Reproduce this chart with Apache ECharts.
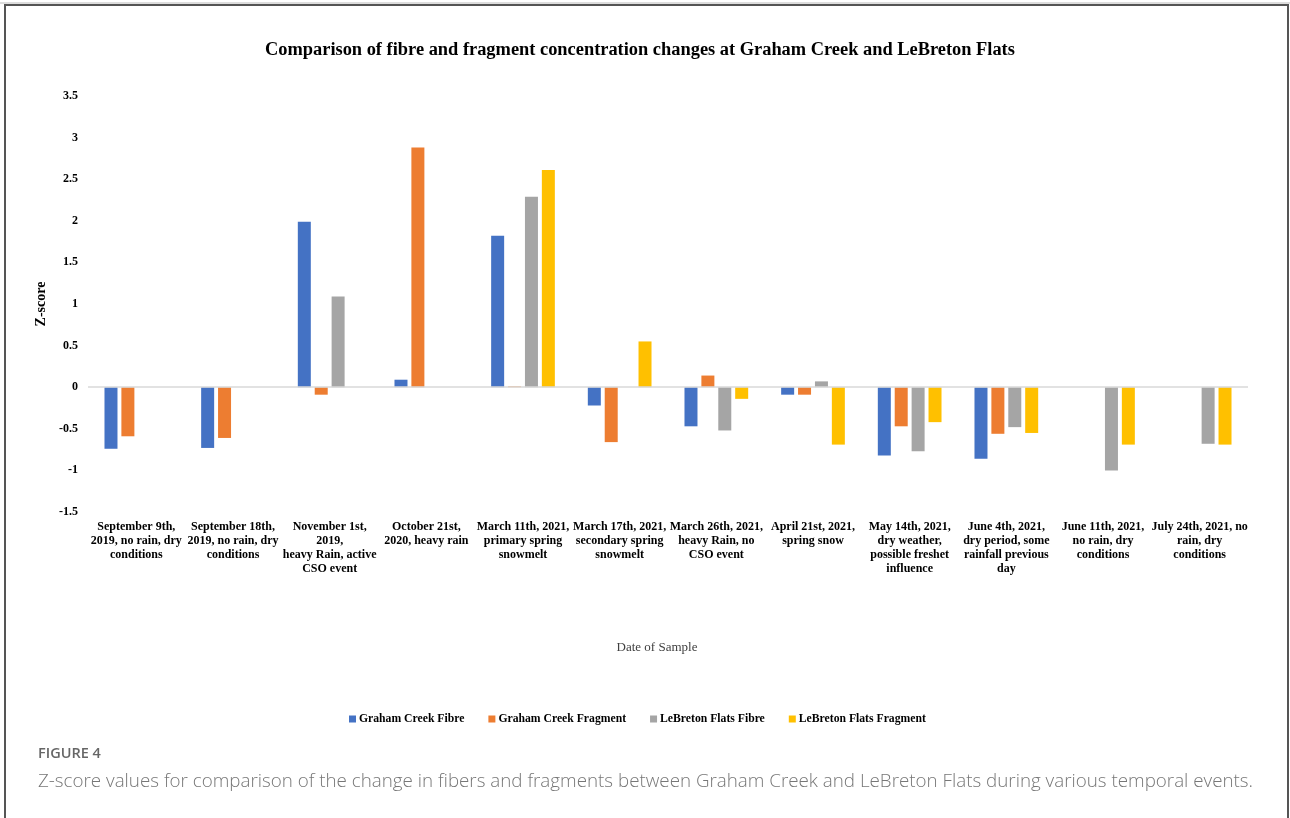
<!DOCTYPE html>
<html>
<head>
<meta charset="utf-8">
<script src="https://cdn.jsdelivr.net/npm/echarts@6/dist/echarts.min.js"></script>
<style>
  html, body { margin: 0; padding: 0; background: #fff; }
  #chart { width: 1290px; height: 818px; }
</style>
</head>
<body>
<div id="chart"></div>
<script>
// Sampling dates with weather notes (one entry per x-axis category)
const categories = [
  'September 9th,\n2019, no rain, dry\nconditions',
  'September 18th,\n2019, no rain, dry\nconditions',
  'November 1st,\n2019,\nheavy Rain, active\nCSO event',
  'October 21st,\n2020, heavy rain',
  'March 11th, 2021,\nprimary spring\nsnowmelt',
  'March 17th, 2021,\nsecondary spring\nsnowmelt',
  'March 26th, 2021,\nheavy Rain, no\nCSO event',
  'April 21st, 2021,\nspring snow',
  'May 14th, 2021,\ndry weather,\npossible freshet\ninfluence',
  'June 4th, 2021,\ndry period, some\nrainfall previous\nday',
  'June 11th, 2021,\nno rain, dry\nconditions',
  'July 24th, 2021, no\nrain, dry\nconditions'
];

// Z-scores per series (null = no sample)
const grahamFibre    = [-0.74, -0.73, 1.99, 0.09, 1.82, -0.22, -0.47, -0.09, -0.82, -0.86, null, null];
const grahamFragment = [-0.59, -0.61, -0.09, 2.88, 0.01, -0.66, 0.14, -0.09, -0.47, -0.56, null, null];
const lebretonFibre  = [null, null, 1.09, null, 2.29, null, -0.52, 0.07, -0.77, -0.48, -1.0, -0.68];
const lebretonFrag   = [null, null, null, null, 2.61, 0.55, -0.14, -0.69, -0.42, -0.55, -0.69, -0.69];

const yTicks = { min: -1.5, max: 3.5, step: 0.5 };

const seriesNames = ['Graham Creek Fibre', 'Graham Creek Fragment', 'LeBreton Flats Fibre', 'LeBreton Flats Fragment'];
const seriesData = [grahamFibre, grahamFragment, lebretonFibre, lebretonFrag];
const colors = ['#4472C4', '#ED7D31', '#A5A5A5', '#FFC000'];

const serif = '"Liberation Serif", "Times New Roman", serif';

const chart = echarts.init(document.getElementById('chart'), null, { renderer: 'canvas' });

const series = seriesData.map((d, i) => ({
  name: seriesNames[i],
  type: 'bar',
  data: d,
  barWidth: 13,
  barGap: '30%',
  itemStyle: { color: colors[i] },
  silent: true
}));
// light zero line across the plot
series[0].markLine = {
  silent: true,
  symbol: 'none',
  label: { show: false },
  lineStyle: { color: '#d9d9d9', width: 1.5, type: 'solid' },
  data: [{ yAxis: 0 }],
  animation: false
};

chart.setOption({
  animation: false,
  color: colors,
  title: {
    text: 'Comparison of fibre and fragment concentration changes at Graham Creek and LeBreton Flats',
    left: 260,
    top: 36,
    textStyle: { fontFamily: serif, fontSize: 18.4, fontWeight: 'bold', color: '#000' }
  },
  legend: {
    left: 344,
    top: 708,
    itemWidth: 7,
    itemHeight: 7,
    itemGap: 24,
    icon: 'rect',
    textStyle: { fontFamily: serif, fontSize: 11.7, fontWeight: 'bold', color: '#000', padding: [0, 0, 0, -2] },
    data: seriesNames
  },
  grid: { left: 88, right: 42, top: 96, bottom: 306, containLabel: false },
  xAxis: {
    type: 'category',
    data: categories,
    name: 'Date of Sample',
    nameLocation: 'middle',
    nameGap: 129,
    nameTextStyle: { fontFamily: serif, fontSize: 13, color: '#404040', padding: [0, 22, 0, 0] },
    axisLine: { show: false, onZero: false },
    axisTick: { show: false },
    axisLabel: {
      interval: 0,
      margin: 8,
      fontFamily: serif,
      fontSize: 12,
      fontWeight: 'bold',
      color: '#000',
      lineHeight: 14,
      align: 'center'
    }
  },
  yAxis: {
    type: 'value',
    min: yTicks.min,
    max: yTicks.max,
    interval: yTicks.step,
    name: 'Z-score',
    nameLocation: 'middle',
    nameGap: 33,
    nameRotate: 90,
    nameTextStyle: { fontFamily: serif, fontSize: 14, fontWeight: 'bold', color: '#000' },
    axisLine: { show: false },
    axisTick: { show: false },
    splitLine: { show: false },
    axisLabel: {
      margin: 10,
      fontFamily: serif,
      fontSize: 12,
      fontWeight: 'bold',
      color: '#000'
    }
  },
  series: series,
  graphic: [
    {
      type: 'rect',
      shape: { x: 5, y: 5, width: 1283, height: 900 },
      style: { fill: 'none', stroke: '#555', lineWidth: 2 },
      silent: true
    },
    {
      type: 'line',
      shape: { x1: 0, y1: 3, x2: 1290, y2: 3 },
      style: { stroke: '#ddd', lineWidth: 2 },
      silent: true
    },
    {
      type: 'text',
      left: 38,
      top: 746,
      style: {
        text: 'FIGURE 4',
        fontFamily: '"Open Sans", sans-serif',
        fontSize: 14.5,
        fontWeight: 600,
        fill: '#666'
      },
      silent: true
    },
    {
      type: 'text',
      left: 38,
      top: 772,
      style: {
        text: 'Z-score values for comparison of the change in fibers and fragments between Graham Creek and LeBreton Flats during various temporal events.',
        fontFamily: '"Open Sans", sans-serif',
        fontSize: 18.8,
        fontWeight: 300,
        fill: '#777'
      },
      silent: true
    }
  ]
});
</script>
</body>
</html>
